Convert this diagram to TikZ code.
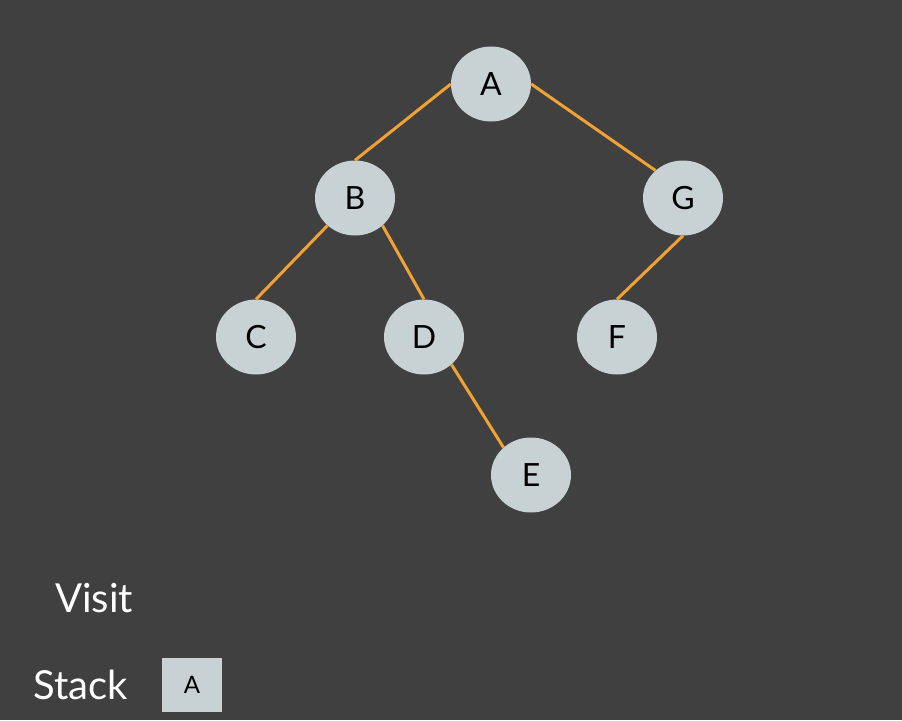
\documentclass[tikz,border=0pt]{standalone}
\usepackage{fontspec}
\setmainfont{Lato}
\usetikzlibrary{shapes.geometric}
\definecolor{bg}{HTML}{404040}
\definecolor{nodefill}{HTML}{C8D2D5}
\definecolor{edgeorange}{HTML}{F0A234}
\tikzset{
  treenode/.style={ellipse, fill=nodefill, minimum width=80pt, minimum height=75pt, inner sep=0pt, font=\fontsize{32}{36}\selectfont, text=black},
  edge/.style={draw=edgeorange, line width=3pt},
  label/.style={text=white, font=\fontsize{40}{44}\selectfont, inner sep=0pt, anchor=base west},
  stackbox/.style={rectangle, fill=nodefill, minimum width=60pt, minimum height=54pt, inner sep=0pt, font=\fontsize{24}{28}\selectfont, text=black}
}
\begin{document}
\begin{tikzpicture}[x=1pt, y=-1pt]
\fill[bg] (0,0) rectangle (902,720);
\useasboundingbox (0,0) rectangle (902,720);
\node[treenode] (A) at (491,84) {A};
\node[treenode] (B) at (355,198) {B};
\node[treenode] (G) at (683,198) {G};
\node[treenode] (C) at (256,337) {C};
\node[treenode] (D) at (424,337) {D};
\node[treenode] (F) at (617,337) {F};
\node[treenode] (E) at (531,475) {E};
\draw[edge] (A.west) -- (B.north);
\draw[edge] (A.east) -- (G.135);
\draw[edge] (B.225) -- (C.north);
\draw[edge] (B.315) -- (D.north);
\draw[edge] (G.south) -- (F.north);
\draw[edge] (D.315) -- (E.135);
\node[label] (visit) at (55,612) {Visit};
\node[label] (stack) at (33,699) {Stack};
\node[stackbox] (s1) at (192,685) {A};
\end{tikzpicture}
\end{document}
